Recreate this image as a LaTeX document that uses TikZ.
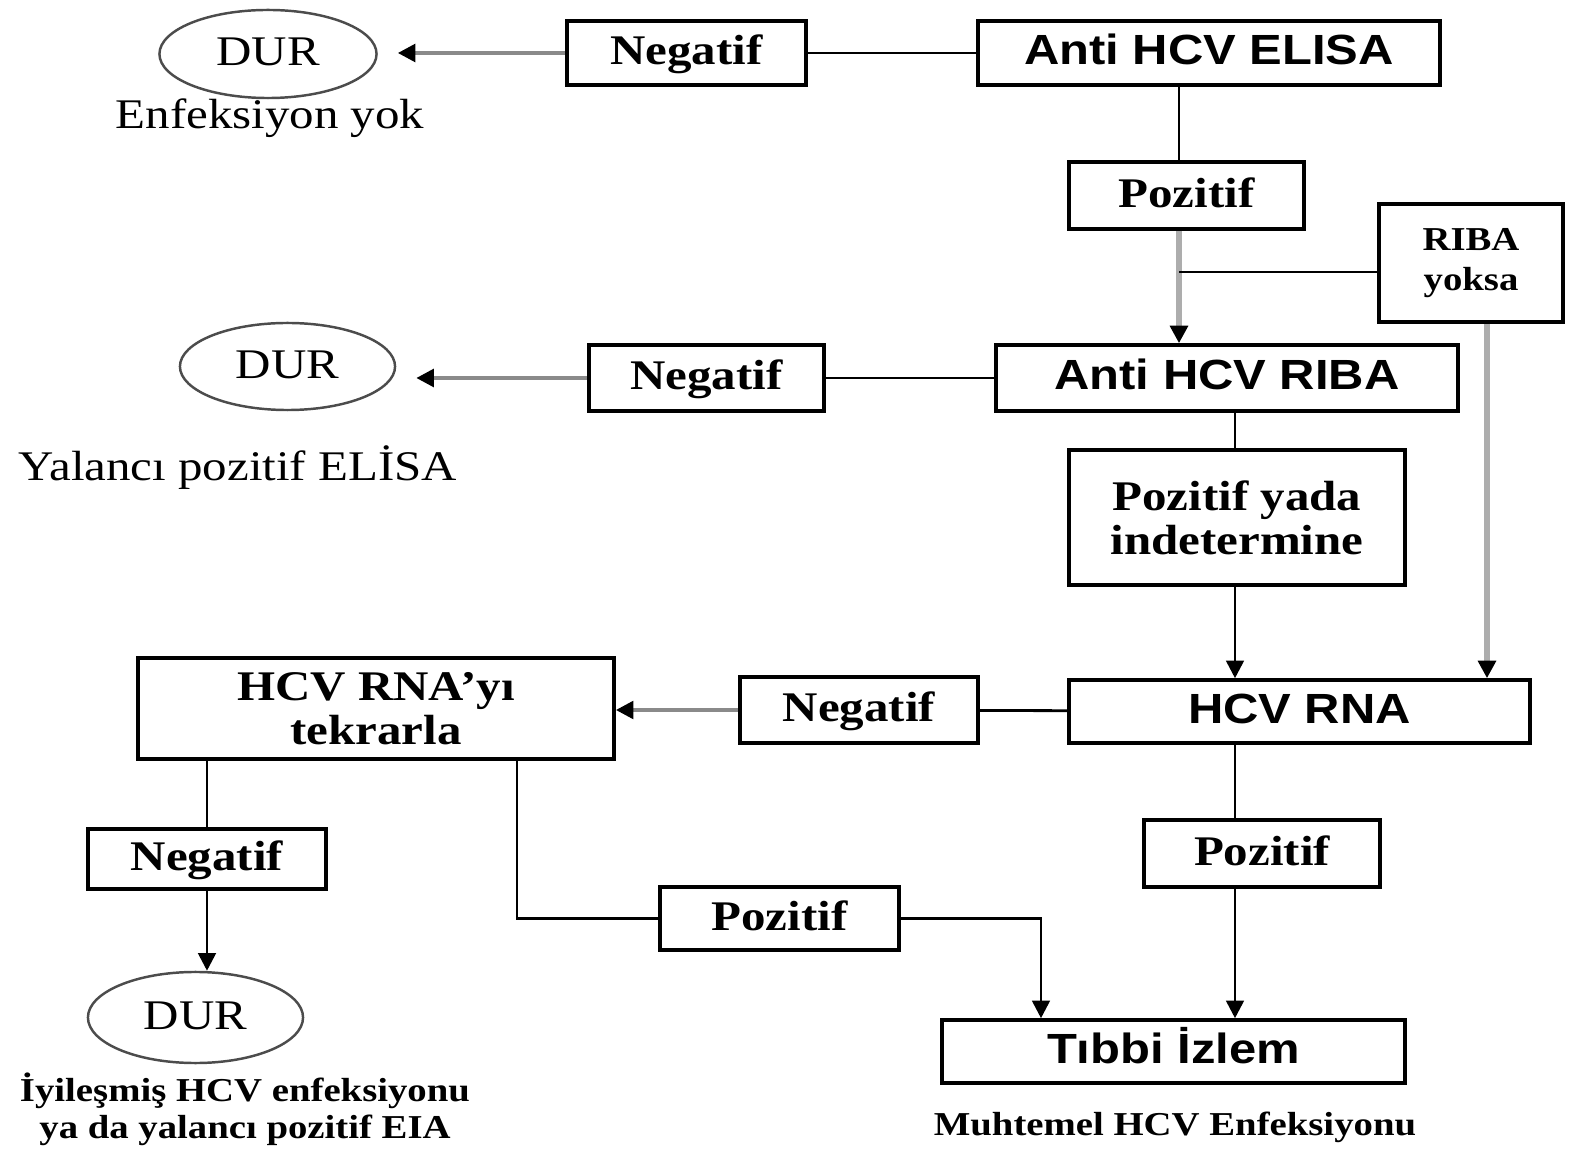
\documentclass[tikz,border=0pt]{standalone}
\usepackage{fontspec}
\setmainfont{Liberation Serif}[FakeStretch=1.16]
\setsansfont{Liberation Sans}[FakeStretch=1.16]
\usepackage{tikz}
\usetikzlibrary{arrows.meta,shapes.geometric}
\definecolor{ink}{HTML}{000000}
\definecolor{lgray}{HTML}{ADADAD}
\definecolor{dgray}{HTML}{8A8A8A}

\begin{document}
\begin{tikzpicture}[x=0.01cm,y=-0.01cm,
   b/.style={draw=ink,line width=1pt,inner sep=0pt,align=center,font=\fontsize{12}{12.5}\selectfont\bfseries},
   bs/.style={b,font=\fontsize{12}{12.5}\selectfont\sffamily\bfseries},
   one/.style={text height=0.67em,text depth=0pt},
   e/.style={ellipse,draw=black!70,line width=0.7pt,inner sep=0pt,font=\fontsize{12}{14}\selectfont,text height=0.66em,text depth=0pt},
   t/.style={align=center,inner sep=0pt,font=\fontsize{12}{14}\selectfont},
   tb/.style={align=center,inner sep=0pt,font=\fontsize{9.5}{10.6}\selectfont\bfseries},
   l/.style={line width=0.8pt,ink},
   a/.style={-{Triangle[length=5pt,width=5pt]},line width=0.8pt,ink},
   ga/.style={-{Triangle[length=5pt,width=5pt,color=black]},line width=1.7pt,lgray},
   da/.style={-{Triangle[length=5pt,width=5pt,color=black]},line width=1.1pt,dgray}]
  \useasboundingbox (0,0) rectangle (1572,1149);
  \node[e,minimum width=2.17cm,minimum height=0.88cm] (dur1) at (268,54) {DUR};
  \node[t] (cap1) at (270,118) {Enfeksiyon yok};
  \node[b,one,minimum width=2.39cm,minimum height=0.64cm] (neg1) at (686.5,53) {Negatif};
  \node[bs,one,minimum width=4.62cm,minimum height=0.64cm] (elisa) at (1209,53) {Anti HCV ELISA};
  \node[b,one,minimum width=2.35cm,minimum height=0.67cm] (poz1) at (1186.5,195.5) {Pozitif};
  \node[b,minimum width=1.84cm,minimum height=1.18cm,font=\fontsize{9.5}{11.5}\selectfont\bfseries] (yoksa) at (1471,263) {RIBA\\yoksa};
  \node[e,minimum width=2.15cm,minimum height=0.87cm] (dur2) at (287.5,366.5) {DUR};
  \node[t] (cap2) at (238,468) {Yalancı pozitif ELİSA};
  \node[b,one,minimum width=2.35cm,minimum height=0.66cm] (neg2) at (706.5,378) {Negatif};
  \node[bs,one,minimum width=4.62cm,minimum height=0.66cm] (riba) at (1227,378) {Anti HCV RIBA};
  \node[b,minimum width=3.36cm,minimum height=1.35cm] (pyada) at (1237,517.5) {Pozitif yada\\indetermine};
  \node[b,minimum width=4.76cm,minimum height=1.01cm] (tekrar) at (376,708.5) {HCV RNA’yı\\tekrarla};
  \node[b,one,minimum width=2.38cm,minimum height=0.66cm] (neg3) at (859,710) {Negatif};
  \node[bs,one,minimum width=4.61cm,minimum height=0.63cm] (rna) at (1299.5,711.5) {HCV RNA};
  \node[b,one,minimum width=2.38cm,minimum height=0.60cm] (neg4) at (207,859) {Negatif};
  \node[e,minimum width=2.15cm,minimum height=0.91cm] (dur3) at (195.5,1017.5) {DUR};
  \node[tb] (cap3) at (245,1109) {İyileşmiş HCV enfeksiyonu\\ya da yalancı pozitif EIA};
  \node[b,one,minimum width=2.39cm,minimum height=0.63cm] (poz3) at (779.5,918.5) {Pozitif};
  \node[b,one,minimum width=2.36cm,minimum height=0.67cm] (poz2) at (1262,853.5) {Pozitif};
  \node[bs,one,minimum width=4.63cm,minimum height=0.63cm] (izlem) at (1173.5,1051.5) {Tıbbi İzlem};
  \node[tb] (cap4) at (1175,1127) {Muhtemel HCV Enfeksiyonu};
  \coordinate (cE) at (1179,272);
  \coordinate (cY) at (1487,0);
  \coordinate (cR) at (1235,0);
  \coordinate (cP) at (517,0);
  \coordinate (cT) at (1041,0);
  \draw[l] (neg1) -- (elisa);
  \draw[da,shorten >=2mm] (neg1.west) -- (neg1.west -| dur1.east);
  \draw[l] (elisa.south -| cE) -- (poz1.north -| cE);
  \draw[ga] (poz1.south -| cE) -- (riba.north -| cE);
  \draw[l] (yoksa.west |- cE) -- (cE);
  \draw[ga] (yoksa.south -| cY) -- (rna.north -| cY);
  \draw[l] (neg2) -- (riba);
  \draw[da,shorten >=2mm] (neg2.west) -- (neg2.west -| dur2.east);
  \draw[l] (riba.south -| cR) -- (pyada.north -| cR);
  \draw[a] (pyada.south -| cR) -- (rna.north -| cR);
  \draw[l] (neg3) -- (rna);
  \draw[da] (neg3.west) -- (neg3.west -| tekrar.east);
  \draw[l] (rna.south -| cR) -- (poz2.north -| cR);
  \draw[a] (poz2.south -| cR) -- (izlem.north -| cR);
  \draw[l] (tekrar.south -| neg4) -- (neg4);
  \draw[a] (neg4) -- (dur3.north -| neg4);
  \draw[l] (tekrar.south -| cP) |- (poz3);
  \draw[a] (poz3) -| (izlem.north -| cT);
\end{tikzpicture}
\end{document}
